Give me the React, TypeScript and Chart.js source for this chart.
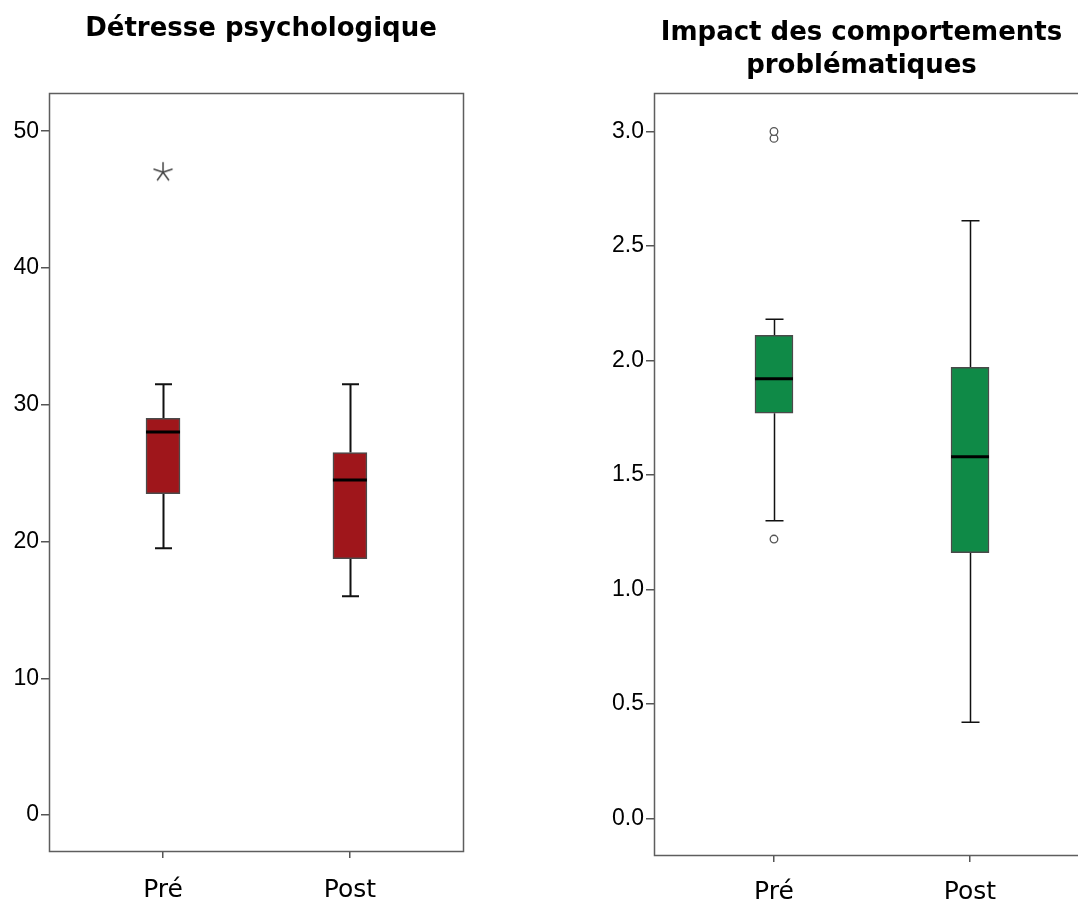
import React, { useEffect, useRef } from "react";
import { Chart, registerables } from "chart.js";

Chart.register(...registerables);

// ---- Data ----
const groups = ["Pré", "Post"];
const groupPositions = [1, 2];

const detresseTitle = "Détresse psychologique";
const detresseMin = [19.5, 16];
const detresseQ1 = [23.5, 18.75];
const detresseMedian = [28, 24.5];
const detresseQ3 = [29, 26.5];
const detresseMax = [31.5, 31.5];
const detresseExtremeGroup = [1];
const detresseExtremeValues = [47];
const detresseYTicks = [0, 10, 20, 30, 40, 50];

const impactTitle = ["Impact des comportements", "problématiques"];
const impactMin = [1.3, 0.42];
const impactQ1 = [1.77, 1.16];
const impactMedian = [1.92, 1.58];
const impactQ3 = [2.11, 1.97];
const impactMax = [2.18, 2.61];
const impactOutlierGroup = [1, 1, 1];
const impactOutlierValues = [1.22, 2.97, 3.0];
const impactYTicks = [0, 0.5, 1.0, 1.5, 2.0, 2.5, 3.0];

function makeStar(): HTMLCanvasElement {
  const c = document.createElement("canvas");
  c.width = 22;
  c.height = 22;
  const ctx = c.getContext("2d")!;
  ctx.strokeStyle = "#444";
  ctx.lineWidth = 1.5;
  ctx.lineCap = "round";
  for (let i = 0; i < 5; i++) {
    const a = -Math.PI / 2 + (i * 2 * Math.PI) / 5;
    ctx.beginPath();
    ctx.moveTo(11, 11);
    ctx.lineTo(11 + Math.cos(a) * 9.5, 11 + Math.sin(a) * 9.5);
    ctx.stroke();
  }
  return c;
}

type BoxCfg = {
  min: number[];
  q1: number[];
  med: number[];
  q3: number[];
  max: number[];
  capHalf: number;
  boxHalf: number;
  whiskerWidth: number;
};

const boxPlugin = {
  id: "boxParts",
  beforeDatasetsDraw(chart: any) {
    const cfg: BoxCfg = chart.options.plugins.boxParts;
    const xs = chart.scales.x;
    const ys = chart.scales.y;
    const ctx = chart.ctx;
    ctx.save();
    ctx.strokeStyle = "#111";
    ctx.lineWidth = cfg.whiskerWidth;
    groupPositions.forEach((p, i) => {
      const x = Math.round(xs.getPixelForValue(p)) + 0.5;
      const yMax = ys.getPixelForValue(cfg.max[i]);
      const yMin = ys.getPixelForValue(cfg.min[i]);
      const yQ3 = ys.getPixelForValue(cfg.q3[i]);
      const yQ1 = ys.getPixelForValue(cfg.q1[i]);
      ctx.beginPath();
      ctx.moveTo(x, yMax);
      ctx.lineTo(x, yQ3);
      ctx.moveTo(x, yQ1);
      ctx.lineTo(x, yMin);
      ctx.moveTo(x - cfg.capHalf, yMax);
      ctx.lineTo(x + cfg.capHalf, yMax);
      ctx.moveTo(x - cfg.capHalf, yMin);
      ctx.lineTo(x + cfg.capHalf, yMin);
      ctx.stroke();
    });
    ctx.restore();
  },
  afterDatasetsDraw(chart: any) {
    const cfg: BoxCfg = chart.options.plugins.boxParts;
    const xs = chart.scales.x;
    const ys = chart.scales.y;
    const ctx = chart.ctx;
    ctx.save();
    ctx.strokeStyle = "#000";
    ctx.lineWidth = 3;
    groupPositions.forEach((p, i) => {
      const x = xs.getPixelForValue(p);
      const y = ys.getPixelForValue(cfg.med[i]);
      ctx.beginPath();
      ctx.moveTo(x - cfg.boxHalf, y);
      ctx.lineTo(x + cfg.boxHalf, y);
      ctx.stroke();
    });
    // frame
    const a = chart.chartArea;
    ctx.strokeStyle = "#5e5e5e";
    ctx.lineWidth = 1.5;
    ctx.strokeRect(Math.round(a.left) + 0.5, Math.round(a.top) + 0.5, Math.round(a.right - a.left), Math.round(a.bottom - a.top));
    ctx.restore();
  },
};

type PanelProps = {
  title: string | string[];
  titlePadding: { top: number; bottom: number };
  titleLineHeight: number;
  width: number;
  height: number;
  yAxisWidth: number;
  xAxisHeight: number;
  rightSpace: number;
  xMin: number;
  xMax: number;
  yMin: number;
  yMax: number;
  yTicks: number[];
  yDecimals: number;
  labelPadding: number;
  box: BoxCfg;
  color: string;
  barThickness: number;
  outlierGroup: number[];
  outlierValues: number[];
  outlierStyle: any;
  outlierRadius: number;
};

function Panel(props: PanelProps) {
  const ref = useRef<HTMLCanvasElement>(null);
  useEffect(() => {
    const canvas = ref.current!;
    const chart = new Chart(canvas, {
      type: "bar",
      data: {
        datasets: [
          {
            type: "bar",
            data: groupPositions.map((p, i) => ({ x: p, y: [props.box.q1[i], props.box.q3[i]] })) as any,
            backgroundColor: props.color,
            borderColor: "#4a4a4a",
            borderWidth: 1.5,
            borderSkipped: false,
            barThickness: props.barThickness,
            order: 2,
          } as any,
          {
            type: "scatter",
            data: props.outlierValues.map((v, i) => ({ x: props.outlierGroup[i], y: v })),
            pointStyle: props.outlierStyle,
            pointRadius: props.outlierRadius,
            pointBorderColor: "#555",
            pointBackgroundColor: "#fff",
            borderColor: "#555",
            backgroundColor: "#fff",
            pointBorderWidth: 1.3,
            order: 1,
          } as any,
        ],
      },
      options: {
        responsive: false,
        animation: false,
        devicePixelRatio: 1,
        layout: { padding: 0 },
        plugins: {
          legend: { display: false },
          tooltip: { enabled: false },
          title: {
            display: true,
            text: props.title,
            color: "#000",
            font: { family: "'DejaVu Sans'", size: 26, weight: "bold", lineHeight: props.titleLineHeight },
            padding: props.titlePadding,
          },
          boxParts: props.box,
        } as any,
        scales: {
          x: {
            type: "linear",
            min: props.xMin,
            max: props.xMax,
            offset: false,
            border: { display: false },
            grid: { offset: false, drawOnChartArea: false, drawTicks: true, tickLength: 7, color: "#555", lineWidth: 1.5 },
            afterBuildTicks: (s: any) => {
              s.ticks = groupPositions.map((v) => ({ value: v }));
            },
            afterFit: (s: any) => {
              s.height = props.xAxisHeight;
            },
            ticks: {
              color: "#000",
              padding: props.labelPadding,
              font: { family: "'DejaVu Sans'", size: 25 },
              maxRotation: 0,
              autoSkip: false,
              callback: (v: any) => {
                const idx = groupPositions.indexOf(Number(v));
                return idx >= 0 ? groups[idx] : "";
              },
            },
          },
          y: {
            type: "linear",
            min: props.yMin,
            max: props.yMax,
            border: { display: false },
            grid: { drawOnChartArea: false, drawTicks: true, tickLength: 8, color: "#555", lineWidth: 1.5 },
            afterBuildTicks: (s: any) => {
              s.ticks = props.yTicks.map((v) => ({ value: v }));
            },
            afterFit: (s: any) => {
              s.width = props.yAxisWidth;
            },
            ticks: {
              color: "#000",
              padding: 2,
              font: { family: "'Liberation Sans', Arial, sans-serif", size: 23 },
              autoSkip: false,
              callback: (v: any) => Number(v).toFixed(props.yDecimals),
            },
          },
          ySpace: {
            type: "linear",
            position: "right",
            display: true,
            border: { display: false },
            grid: { display: false, drawTicks: false },
            ticks: { display: false },
            afterFit: (s: any) => {
              s.width = props.rightSpace;
            },
          },
        },
      } as any,
      plugins: [boxPlugin],
    });
    return () => chart.destroy();
  }, []);
  return <canvas ref={ref} width={props.width} height={props.height} style={{ width: props.width, height: props.height, display: "block" }} />;
}

export default function App() {
  const star = makeStar();
  return (
    <div style={{ position: "fixed", left: 0, top: 0, width: 1078, height: 901, overflow: "hidden", background: "#fff" }}>
      <div style={{ position: "absolute", left: 0, top: 0 }}>
        <Panel
          title={detresseTitle}
          titlePadding={{ top: 14, bottom: 48 }}
          titleLineHeight={1.2}
          width={522}
          height={901}
          yAxisWidth={49}
          xAxisHeight={50}
          rightSpace={59}
          xMin={0.39}
          xMax={2.605}
          yMin={-2.63}
          yMax={52.78}
          yTicks={detresseYTicks}
          yDecimals={0}
          labelPadding={17}
          box={{ min: detresseMin, q1: detresseQ1, med: detresseMedian, q3: detresseQ3, max: detresseMax, capHalf: 8.5, boxHalf: 17, whiskerWidth: 2 }}
          color="#9f161b"
          barThickness={34}
          outlierGroup={detresseExtremeGroup}
          outlierValues={detresseExtremeValues}
          outlierStyle={star}
          outlierRadius={10}
        />
      </div>
      <div style={{ position: "absolute", left: 590, top: 0 }}>
        <Panel
          title={impactTitle}
          titlePadding={{ top: 16, bottom: 9 }}
          titleLineHeight={1.3}
          width={543}
          height={901}
          yAxisWidth={64}
          xAxisHeight={46}
          rightSpace={43}
          xMin={0.388}
          xMax={2.612}
          yMin={-0.16}
          yMax={3.17}
          yTicks={impactYTicks}
          yDecimals={1}
          labelPadding={15}
          box={{ min: impactMin, q1: impactQ1, med: impactMedian, q3: impactQ3, max: impactMax, capHalf: 9, boxHalf: 19, whiskerWidth: 1.5 }}
          color="#0f8a47"
          barThickness={38}
          outlierGroup={impactOutlierGroup}
          outlierValues={impactOutlierValues}
          outlierStyle="circle"
          outlierRadius={3.8}
        />
      </div>
    </div>
  );
}
